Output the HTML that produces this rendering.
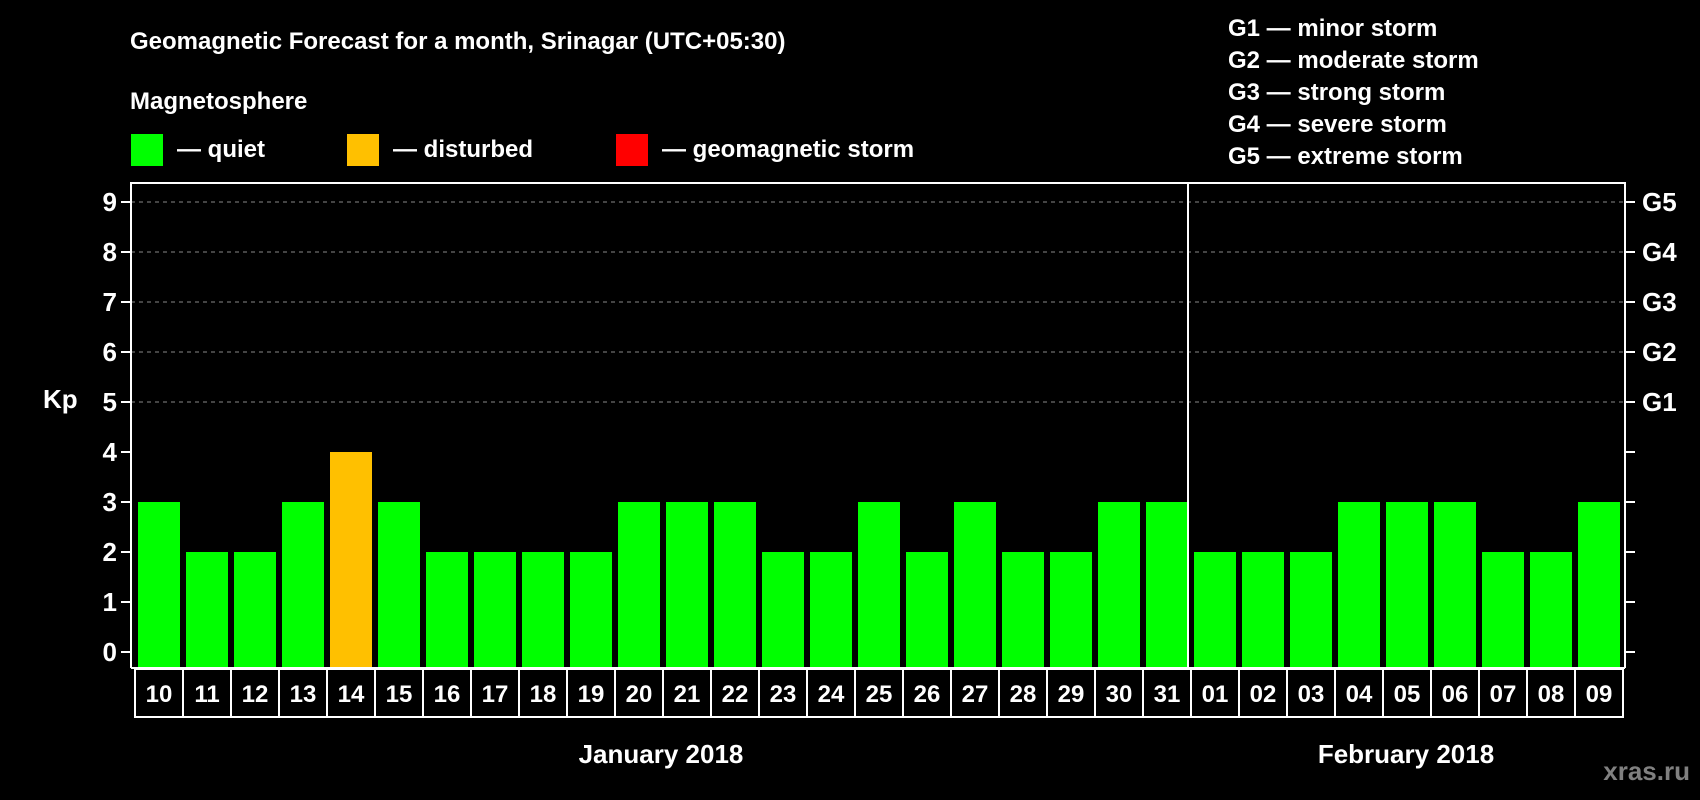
<!DOCTYPE html>
<html><head><meta charset="utf-8"><style>
body{margin:0;background:#000;}
svg{display:block;font-family:"Liberation Sans",sans-serif;font-weight:bold;}
</style></head><body>
<svg id="c" width="1700" height="800" xmlns="http://www.w3.org/2000/svg">
<rect width="1700" height="800" fill="#000"/>
<text x="130" y="49" font-size="24" fill="#fff">Geomagnetic Forecast for a month, Srinagar (UTC+05:30)</text>
<text x="130" y="109" font-size="24" fill="#fff">Magnetosphere</text>
<rect x="131" y="134" width="32" height="32" fill="#00ff00"/>
<text x="177" y="157" font-size="24" fill="#fff">— quiet</text>
<rect x="347" y="134" width="32" height="32" fill="#ffc000"/>
<text x="393" y="157" font-size="24" fill="#fff">— disturbed</text>
<rect x="616" y="134" width="32" height="32" fill="#ff0000"/>
<text x="662" y="157" font-size="24" fill="#fff">— geomagnetic storm</text>
<g font-size="24" fill="#fff">
<text x="1228" y="36">G1 — minor storm</text>
<text x="1228" y="68">G2 — moderate storm</text>
<text x="1228" y="100">G3 — strong storm</text>
<text x="1228" y="132">G4 — severe storm</text>
<text x="1228" y="164">G5 — extreme storm</text>
</g>
<text x="43" y="408" font-size="26" fill="#fff">Kp</text>
<g id="plot"></g>
<text x="661" y="763" font-size="26" fill="#fff" text-anchor="middle">January 2018</text>
<text x="1406" y="763" font-size="26" fill="#fff" text-anchor="middle">February 2018</text>
<text x="1690" y="780" font-size="26" fill="#808080" text-anchor="end">xras.ru</text>
</svg>
<script>
const days=["10","11","12","13","14","15","16","17","18","19","20","21","22","23","24","25","26","27","28","29","30","31","01","02","03","04","05","06","07","08","09"];
const kp=[3,2,2,3,4,3,2,2,2,2,3,3,3,2,2,3,2,3,2,2,3,3,2,2,2,3,3,3,2,2,3];
const yTicks=[0,1,2,3,4,5,6,7,8,9];
const gLabels=["G1","G2","G3","G4","G5"];
const NS="http://www.w3.org/2000/svg";
const g=document.getElementById('plot');
const L=131,R=1625,T=183,B=668,x0=135,pitch=48;
const y=v=>652-v*50;
const x=i=>x0+i*pitch;
function mk(t,a){const e=document.createElementNS(NS,t);for(const k in a)e.setAttribute(k,a[k]);g.appendChild(e);return e;}
yTicks.forEach(v=>{
 const tk=mk('line',{x1:L-10,x2:L,y1:y(v),y2:y(v),stroke:'#fff','stroke-width':2});
 
 
 const rt=mk('line',{x1:R,x2:R+10,y1:y(v),y2:y(v),stroke:'#fff','stroke-width':2});
 
 
 const t=mk('text',{x:117,y:y(v)+9,'font-size':26,fill:'#fff','text-anchor':'end'});
 t.textContent=v;
 
 
 if(v>=5){
  const gl=mk('line',{x1:L,x2:R,y1:y(v),y2:y(v),stroke:'#888','stroke-width':1,'stroke-dasharray':'4,4'});
  
  
  const gt=mk('text',{x:1642,y:y(v)+9,'font-size':26,fill:'#fff'});
  gt.textContent=gLabels[v-5];
  
  
 }
});
kp.forEach((v,i)=>{
 const col=v>=5?'#ff0000':(v>=4?'#ffc000':'#00ff00');
 const b=mk('rect',{x:x(i)+3,y:y(v),width:42,height:B-y(v),fill:col});
 
 
 const bx=mk('rect',{x:x(i),y:B+1,width:pitch,height:48,fill:'none',stroke:'#fff','stroke-width':2});
 
 
 const t=mk('text',{x:x(i)+pitch/2,y:B+34,'font-size':24,fill:'#fff','text-anchor':'middle'});
 t.textContent=days[i];
 
 
});
const fr=mk('path',{d:`M${L} ${B} L${L} ${T} L${R} ${T} L${R} ${B} M${L} ${B} L${R} ${B}`,fill:'none',stroke:'#fff','stroke-width':2});


const di=days.indexOf("01");
const dv=mk('line',{x1:x(di)-3,x2:x(di)-3,y1:T,y2:B,stroke:'#fff','stroke-width':2});


</script>
</body></html>
